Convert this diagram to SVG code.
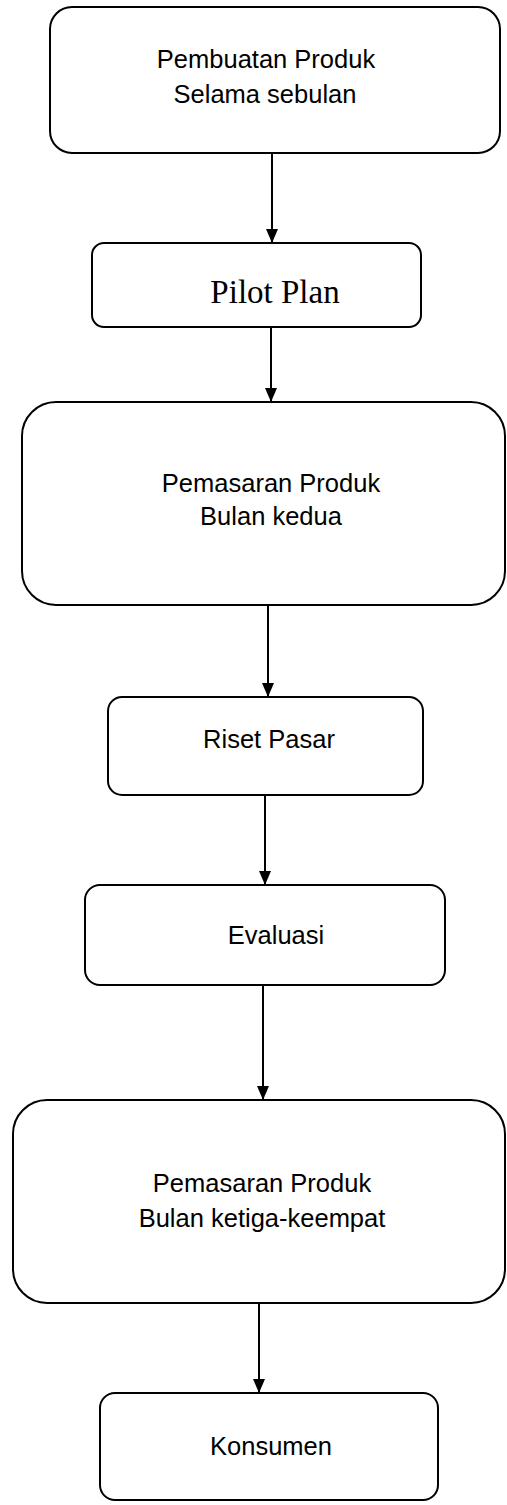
<svg xmlns="http://www.w3.org/2000/svg" width="507" height="1505" viewBox="0 0 507 1505">
<style>
.box{fill:#fff;stroke:#000;stroke-width:2}
.t{font-family:"Liberation Sans",Arial,sans-serif;font-size:25.5px;fill:#000;text-anchor:middle}
.s{font-family:"Liberation Serif","Times New Roman",serif;font-size:33px;fill:#000;text-anchor:middle}
.c{stroke:#000;stroke-width:2;fill:none}
</style>
<defs>
<marker id="ah" viewBox="0 0 14 12" refX="14" refY="6" markerWidth="14" markerHeight="12" markerUnits="userSpaceOnUse" orient="auto">
<path d="M0,0 L14,6 L0,12 Z" fill="#000"/>
</marker>
</defs>
<rect width="507" height="1505" fill="#fff"/>
<g id="connectors">
<line class="c" x1="272" y1="153" x2="272" y2="243" marker-end="url(#ah)"/>
<line class="c" x1="271" y1="327" x2="271" y2="402" marker-end="url(#ah)"/>
<line class="c" x1="268" y1="605" x2="268" y2="697" marker-end="url(#ah)"/>
<line class="c" x1="265" y1="795" x2="265" y2="885" marker-end="url(#ah)"/>
<line class="c" x1="263" y1="985" x2="263" y2="1100" marker-end="url(#ah)"/>
<line class="c" x1="259" y1="1303" x2="259" y2="1393" marker-end="url(#ah)"/>
</g>
<g id="node1">
<rect class="box" x="50" y="7" width="450" height="146" rx="22"/>
<text class="t" x="266" y="68">Pembuatan Produk</text>
<text class="t" x="265" y="103">Selama sebulan</text>
</g>
<g id="node2">
<rect class="box" x="92" y="243" width="329" height="84" rx="12"/>
<text class="s" x="275" y="303">Pilot Plan</text>
</g>
<g id="node3">
<rect class="box" x="22" y="402" width="483" height="203" rx="34"/>
<text class="t" x="271" y="492">Pemasaran Produk</text>
<text class="t" x="271" y="525">Bulan kedua</text>
</g>
<g id="node4">
<rect class="box" x="108" y="697" width="315" height="98" rx="14"/>
<text class="t" x="269" y="748">Riset Pasar</text>
</g>
<g id="node5">
<rect class="box" x="85" y="885" width="360" height="100" rx="15"/>
<text class="t" x="276" y="944">Evaluasi</text>
</g>
<g id="node6">
<rect class="box" x="13" y="1100" width="492" height="203" rx="34"/>
<text class="t" x="262" y="1192">Pemasaran Produk</text>
<text class="t" x="262" y="1227">Bulan ketiga-keempat</text>
</g>
<g id="node7">
<rect class="box" x="100" y="1393" width="338" height="107" rx="15"/>
<text class="t" x="271" y="1455">Konsumen</text>
</g>
</svg>
